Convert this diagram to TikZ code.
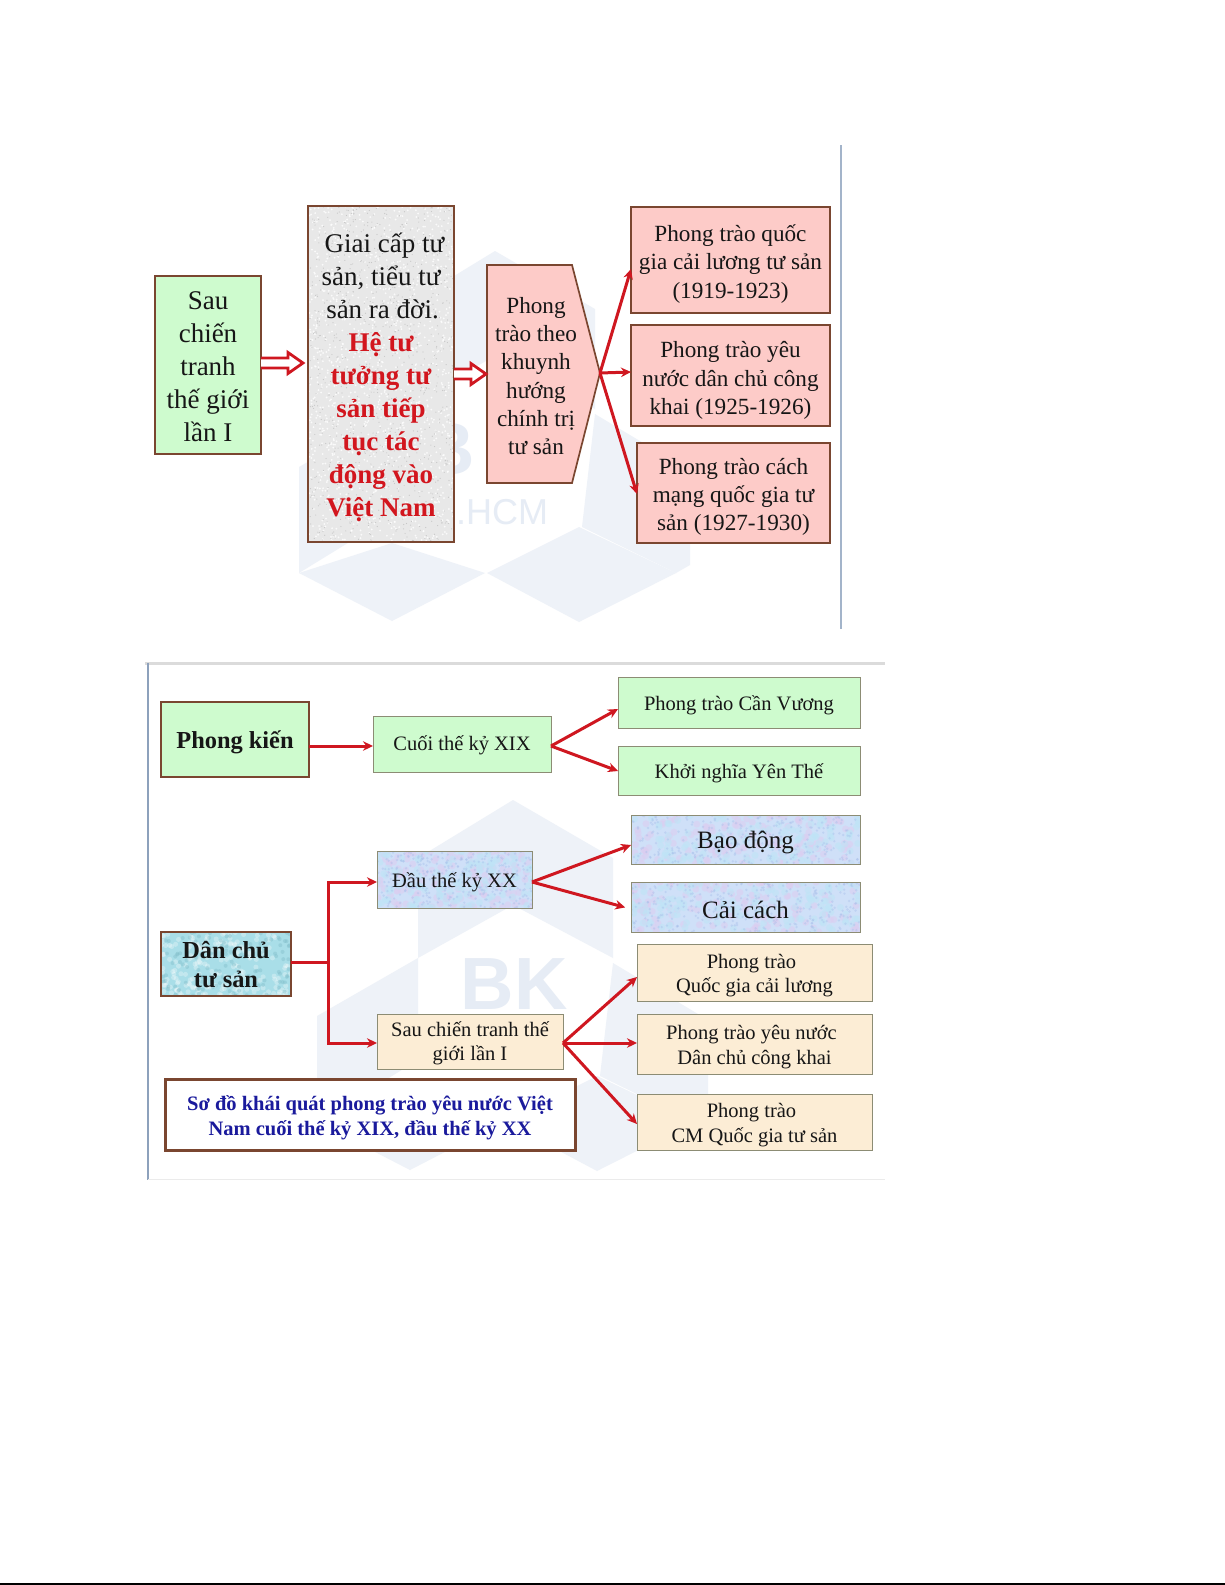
\documentclass[tikz,border=0pt]{standalone}
\usepackage{fontspec}
\setmainfont{Liberation Serif}
\newfontfamily\wmfont{Liberation Sans}
\usetikzlibrary{arrows.meta,calc}
\definecolor{arrred}{HTML}{CF1720}
\definecolor{brownb}{HTML}{7A4630}
\definecolor{thinb}{HTML}{8C8C74}
\definecolor{palegreen}{HTML}{CEFBCE}
\definecolor{palepink}{HTML}{FDCBC8}
\definecolor{cream}{HTML}{FCEDD5}
\definecolor{ink}{HTML}{161616}
\definecolor{titleblue}{HTML}{1A1A9C}
\definecolor{hotred}{HTML}{D2161E}
\definecolor{wm}{HTML}{EEF2F8}
\definecolor{wmtext}{HTML}{E6ECF5}
\definecolor{framelight}{HTML}{A3B4CA}
\definecolor{framedark}{HTML}{8DA1BC}
\definecolor{bluebase}{HTML}{CFE0F8}
\definecolor{bluea}{HTML}{DCCDF0}
\definecolor{blueb}{HTML}{BEE4F6}
\definecolor{bluec}{HTML}{A6BDEA}
\definecolor{aquabase}{HTML}{A9DEE8}
\definecolor{aquadark}{HTML}{7FBCC8}
\tikzset{
  x=1pt,y=-1pt,
  boxbase/.style={rectangle,inner sep=0pt,outer sep=0pt,align=center,text=ink},
  heavy/.style={boxbase,draw=brownb,line width=1.7pt},
  thick brown/.style={boxbase,draw=brownb,line width=2.8pt},
  slim/.style={boxbase,draw=thinb,line width=.9pt},
  fs27/.style={font=\fontsize{27}{33}\selectfont},
  fs23/.style={font=\fontsize{23.2}{28.3}\selectfont},
  fs20/.style={font=\fontsize{20.5}{24.5}\selectfont},
  fs25/.style={font=\fontsize{25}{29}\selectfont},
  fbold24/.style={font=\fontsize{24.4}{29}\selectfont\bfseries},
  ftitle/.style={font=\fontsize{20.5}{25}\selectfont\bfseries,text=titleblue},
  redarrow/.style={draw=arrred,line width=3pt,-{Stealth[length=10pt,width=9.5pt]}},
  redline/.style={draw=arrred,line width=3pt},
  hollowarrow/.style={draw=arrred,fill=white,line width=2.8pt,line join=miter},
}
% \bx[text shift]{style}{x0}{y0}{x1}{y1}{name}{text}
\newcommand{\bx}[8][3]{%
  \node[#2,minimum width={(#5-#3)*1pt},minimum height={(#6-#4)*1pt}] (#7) at ({(#3+#5)/2},{(#4+#6)/2}) {};
  \node[#2,draw=none,fill=none] (#7t) at ({(#3+#5)/2},{(#4+#6)/2+#1}) {#8};}
% \speck{x0}{y0}{x1}{y1}{count}{colour}{size}
\newcommand{\speck}[7]{\begin{scope}
  \clip (#1,#2) rectangle (#3,#4);
  \foreach \i in {1,...,#5}{%
    \pgfmathsetmacro\spx{#1+rnd*(#3-#1)}\pgfmathsetmacro\spy{#2+rnd*(#4-#2)}%
    \fill[#6] (\spx,\spy) circle (#7);}
\end{scope}}
\newcommand{\logo}{%
  \fill[wm] (418,858)--(513,800)--(613,858)--(613,958)--(513,905)--(418,958)--cycle;
  \fill[wm] (317,1016)--(418,958)--(418,1060)--(317,1122)--cycle;
  \fill[wm] (317,1122)--(410,1092)--(503,1122)--(410,1170)--cycle;
  \fill[wm] (505,1122)--(597,1076)--(694,1122)--(597,1171)--cycle;
  \fill[wm] (613,963)--(708,1020)--(708,1114)--(694,1122)--(600,1076)--cycle;
}
\newcommand{\bluetex}[4]{%
  \fill[bluebase] (#1,#2) rectangle (#3,#4);
  \speck{#1}{#2}{#3}{#4}{130}{bluea,opacity=.55}{3.5pt}
  \speck{#1}{#2}{#3}{#4}{130}{blueb,opacity=.55}{3.5pt}
  \speck{#1}{#2}{#3}{#4}{320}{bluec,opacity=.4}{1.3pt}
}
% hollow block arrow: \hollow{start}{tip}
\newcommand{\hollow}[2]{%
  \draw[hollowarrow] (#1) ++(0,-5) -- ($(#2)+(-15,-5)$) -- ($(#2)+(-15,-10.5)$) -- (#2) -- ($(#2)+(-15,10.5)$) -- ($(#2)+(-15,5)$) -- ($(#1)+(0,5)$);}
\begin{document}
\begin{tikzpicture}
\useasboundingbox (0,0) rectangle (1225,1585);
\fill[white] (0,0) rectangle (1225,1585);
\pgfmathsetseed{4242}
% watermark, upper picture
\begin{scope}[shift={(-18,-549)}]\logo\end{scope}
\node[text=wmtext,font=\wmfont\fontsize{74}{74}\selectfont\bfseries,anchor=east,inner sep=0pt] (wmb1) at (475,449) {B};
\node[text=wmtext,font=\wmfont\fontsize{36}{36}\selectfont,anchor=west,inner sep=0pt] (wmh1) at (456,512) {.HCM};
% watermark, lower picture
\logo
\node[text=wmtext,font=\wmfont\fontsize{74}{74}\selectfont\bfseries,anchor=east,inner sep=0pt] (wmb2) at (568,984) {BK};
% frames
\draw[color=framelight,line width=1.4pt] (841,145) -- (841,629);
\draw[color=black!14,line width=3pt] (145,663) -- (885,663);
\draw[color=framedark,line width=2.4pt] (148,663) -- (148,1180);
\draw[color=black!8,line width=1pt] (148,1179) -- (885,1179);
% page rule at the foot
\fill[black] (0,1583) rectangle (1225,1585);

% ---------- upper diagram ----------
\bx[2]{heavy,fill=palegreen,fs27}{155}{276}{261}{454}{a}{Sau\\chiến\\tranh\\thế giới\\lần I}
\fill[black!9] (308,206) rectangle (454,542);
\speck{308}{206}{454}{542}{1300}{white,opacity=.8}{1pt}
\speck{308}{206}{454}{542}{900}{black!22}{.6pt}
\bx{heavy,fs27}{308}{206}{454}{542}{b}{\hspace*{7pt}Giai cấp tư\\sản, tiểu tư\\\hspace*{3pt}sản ra đời.\\\textcolor{hotred}{\bfseries Hệ tư}\\\textcolor{hotred}{\bfseries tưởng tư}\\\textcolor{hotred}{\bfseries sản tiếp}\\\textcolor{hotred}{\bfseries tục tác}\\\textcolor{hotred}{\bfseries động vào}\\\textcolor{hotred}{\bfseries Việt Nam}}
\coordinate (ptip) at (600,373);
\filldraw[fill=palepink,draw=brownb,line width=1.7pt] (487,265) -- (572,265) -- (ptip) -- (572,483) -- (487,483) -- cycle;
\node[boxbase,fs23] (p) at (536,376) {Phong\\trào theo\\khuynh\\hướng\\chính trị\\tư sản};
\bx[4]{heavy,fill=palepink,fs23}{631}{207}{830}{313}{r1}{Phong trào quốc\\gia cải lương tư sản\\(1919-1923)}
\bx[5]{heavy,fill=palepink,fs23}{631}{325}{830}{426}{r2}{Phong trào yêu\\nước dân chủ công\\khai (1925-1926)}
\bx[4]{heavy,fill=palepink,fs23}{637}{443}{830}{543}{r3}{Phong trào cách\\mạng quốc gia tư\\sản (1927-1930)}
\coordinate (h1s) at (a.east |- 0,363);
\coordinate (h1e) at (303,363);
\hollow{h1s}{h1e}
\coordinate (h2s) at (b.east |- 0,374);
\coordinate (h2e) at (486,374);
\hollow{h2s}{h2e}
\draw[redarrow] (ptip) -- (r1.west |- 0,269);
\draw[redarrow] (ptip) -- (r2.west |- 0,372);
\draw[redarrow] (ptip) -- (r3.west |- 0,494);

% ---------- lower diagram ----------
\bx{thick brown,fill=palegreen,fbold24}{161}{702}{309}{777}{pk}{Phong kiến}
\bx[1]{slim,fill=palegreen,fs20}{373}{716}{551}{772}{cuoi}{Cuối thế kỷ XIX}
\bx{slim,fill=palegreen,fs20}{618}{677}{860}{728}{cv}{Phong trào Cần Vương}
\bx{slim,fill=palegreen,fs20}{618}{746}{860}{795}{yt}{Khởi nghĩa Yên Thế}
\bluetex{377}{851}{532}{908}
\bx{slim,fs20}{377}{851}{532}{908}{dau}{Đầu thế kỷ XX}
\bluetex{631}{815}{860}{864}
\bx{slim,fs25}{631}{815}{860}{864}{bd}{Bạo động}
\bluetex{631}{882}{860}{932}
\bx{slim,fs25}{631}{882}{860}{932}{cc}{Cải cách}
\fill[aquabase] (161,932) rectangle (291,996);
\speck{161}{932}{291}{996}{200}{white,opacity=.3}{2.5pt}
\speck{161}{932}{291}{996}{120}{aquadark,opacity=.4}{2pt}
\bx[1]{thick brown,fbold24}{161}{932}{291}{996}{dc}{Dân chủ\\tư sản}
\bx[2]{slim,fill=cream,fs20}{377}{1014}{563}{1069}{sau}{Sau chiến tranh thế\\giới lần I}
\bx{slim,fill=cream,fs20}{637}{944}{872}{1001}{t1}{Phong trào\hspace*{6pt}\\Quốc gia cải lương}
\bx{slim,fill=cream,fs20}{637}{1014}{872}{1074}{t2}{Phong trào yêu nước\hspace*{6pt}\\Dân chủ công khai}
\bx{slim,fill=cream,fs20}{637}{1094}{872}{1150}{t3}{Phong trào\hspace*{6pt}\\CM Quốc gia tư sản}
\bx{thick brown,line width=3pt,fill=white,ftitle}{165}{1079}{575}{1150}{title}{Sơ đồ khái quát phong trào yêu nước Việt\\Nam cuối thế kỷ XIX, đầu thế kỷ XX}
\draw[redarrow] (pk.east |- 0,746) -- (cuoi.west |- 0,746);
\draw[redarrow] (cuoi.east |- 0,746) -- (cv.west |- 0,709);
\draw[redarrow] (cuoi.east |- 0,746) -- (yt.west |- 0,771);
\coordinate (hub) at (328,962);
\draw[redline] (dc.east |- hub) -- (hub);
\draw[redarrow] (hub) |- (dau.west |- 0,882);
\draw[redarrow] (hub) |- (sau.west |- 0,1043);
\draw[redarrow] (dau.east |- 0,882) -- (bd.west |- 0,845);
\draw[redarrow,shorten >=6pt] (dau.east |- 0,882) -- (cc.west |- 0,909);
\draw[redarrow] (sau.east |- 0,1043) -- (t1.west |- 0,977);
\draw[redarrow] (sau.east |- 0,1043) -- (t2.west |- 0,1043);
\draw[redarrow] (sau.east |- 0,1043) -- (t3.west |- 0,1124);
\end{tikzpicture}
\end{document}
